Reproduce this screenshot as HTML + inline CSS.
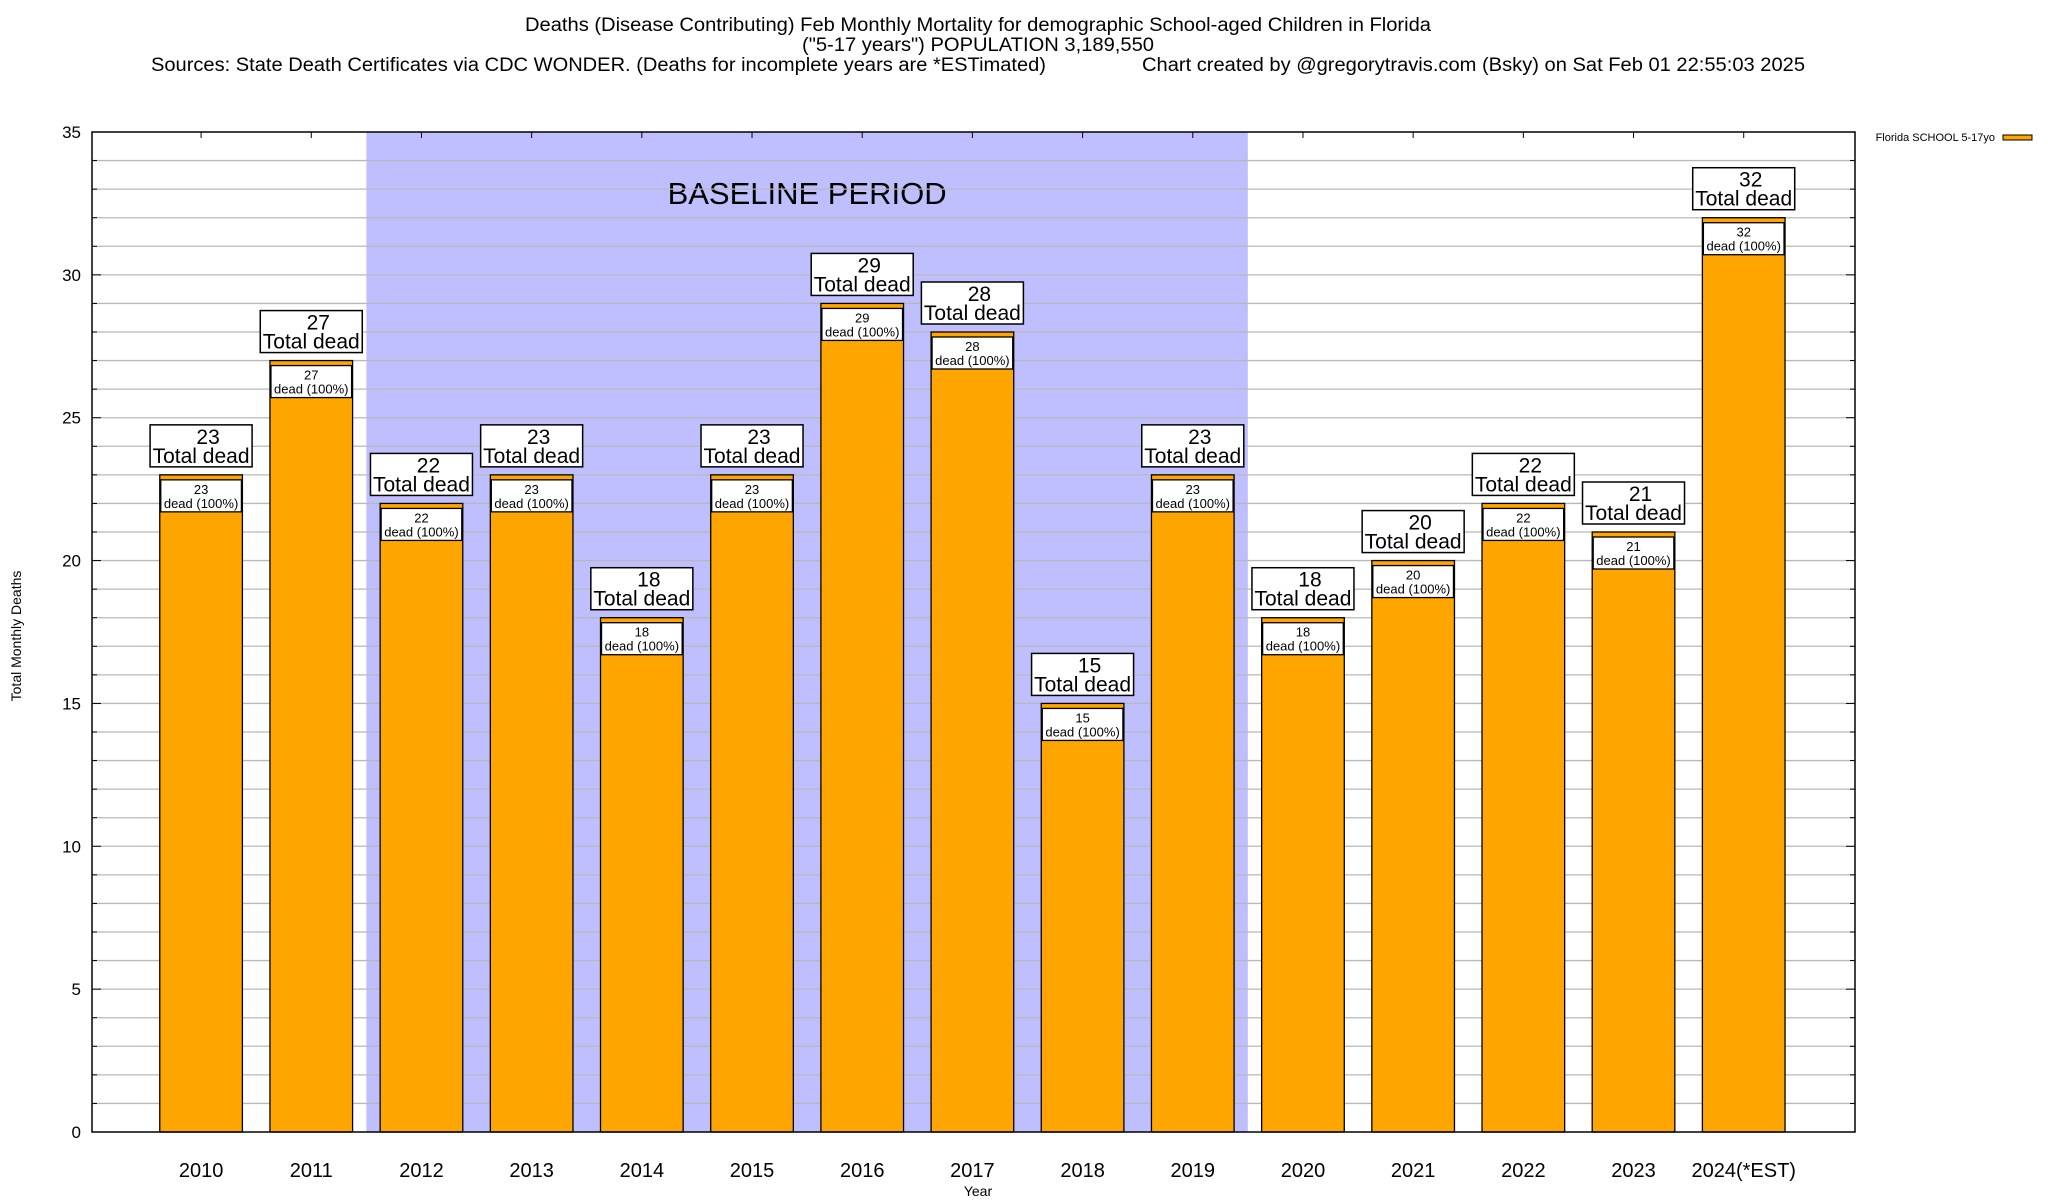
<!DOCTYPE html>
<html><head><meta charset="utf-8">
<style>
html,body{margin:0;padding:0;background:#fff;}
svg{display:block;font-family:"Liberation Sans",Arial,sans-serif;}
</style></head>
<body>
<svg id="chart" width="2048" height="1200" viewBox="0 0 2048 1200" xmlns="http://www.w3.org/2000/svg">
<text x="525" y="31" font-size="19" textLength="906" lengthAdjust="spacingAndGlyphs">Deaths (Disease Contributing) Feb Monthly Mortality for demographic School-aged Children in Florida</text>
<text x="802" y="51" font-size="19" textLength="352" lengthAdjust="spacingAndGlyphs">("5-17 years") POPULATION 3,189,550</text>
<text x="151" y="71" font-size="19" textLength="895" lengthAdjust="spacingAndGlyphs">Sources: State Death Certificates via CDC WONDER. (Deaths for incomplete years are *ESTimated)</text>
<text x="1142" y="71" font-size="19" textLength="663" lengthAdjust="spacingAndGlyphs">Chart created by @gregorytravis.com (Bsky) on Sat Feb 01 22:55:03 2025</text>
<g id="plot"></g>
</svg>
<script>
const categories = ["2010","2011","2012","2013","2014","2015","2016","2017","2018","2019","2020","2021","2022","2023","2024(*EST)"];
const deaths = [23,27,22,23,18,23,29,28,15,23,18,20,22,21,32];
const yTicks = [0,5,10,15,20,25,30,35];
const baselineStart = 1.5, baselineEnd = 9.5;

const NS = "http://www.w3.org/2000/svg";
const L = 92, R = 1855, T = 132, B = 1132;
const xMin = -0.99, xMax = 15.01, yMax = 35;
const xs = v => L + (v - xMin) / (xMax - xMin) * (R - L);
const ys = v => B - v / yMax * (B - T);
const g = document.getElementById('plot');
function mk(tag, attrs, parent){
  const e = document.createElementNS(NS, tag);
  for (const k in attrs) e.setAttribute(k, attrs[k]);
  (parent||g).appendChild(e);
  return e;
}
let sh = mk('rect',{x:xs(baselineStart),y:T,width:xs(baselineEnd)-xs(baselineStart),height:B-T,fill:'#bfbfff'});


let bt = mk('text',{x:(xs(baselineStart)+xs(baselineEnd))/2,y:204,'font-size':31,'text-anchor':'middle'});
bt.textContent = 'BASELINE PERIOD';


for (let v = 1; v < yMax; v++) {
  const y = ys(v);
  const gl = mk('line',{x1:L,x2:R,y1:y,y2:y,stroke:'#b8b8b8','stroke-width':1.3});
  
  
  const len = v % 5 === 0 ? 9 : 5;
  mk('line',{x1:L,x2:L+len,y1:y,y2:y,stroke:'#000','stroke-width':1});
  mk('line',{x1:R,x2:R-len,y1:y,y2:y,stroke:'#000','stroke-width':1});
}
yTicks.forEach(v => {
  const t = mk('text',{x:81,y:ys(v)+6,'font-size':17,'text-anchor':'end'});
  t.textContent = v;
  
  
});
const bw = 0.75;
categories.forEach((c, i) => {
  const cx = xs(i), w = xs(bw) - xs(0);
  const v = deaths[i];
  const top = ys(v);
  const bar = mk('rect',{x:cx-w/2,y:top,width:w,height:B-top,fill:'#ffa500',stroke:'#000','stroke-width':1.3});
  
  
  const ib = mk('rect',{x:cx-w/2+1,y:top+5,width:w-2,height:32,fill:'#fff',stroke:'#000','stroke-width':1.3});
  
  
  const t1 = mk('text',{x:cx,y:top+19,'font-size':13,'text-anchor':'middle'});
  t1.textContent = v;
  
  
  const t2 = mk('text',{x:cx,y:top+33,'font-size':13,'text-anchor':'middle'});
  t2.textContent = 'dead (100%)';
  
  
  const ob = mk('rect',{x:cx-51,y:top-50,width:102,height:42,fill:'#fff',stroke:'#000','stroke-width':1.5});
  
  
  const t3 = mk('text',{x:cx+7,y:top-31,'font-size':21,'text-anchor':'middle'});
  t3.textContent = v;
  
  
  const t4 = mk('text',{x:cx,y:top-12,'font-size':21,'text-anchor':'middle'});
  t4.textContent = 'Total dead';
  
  
  const xl = mk('text',{x:cx,y:1177,'font-size':20,'text-anchor':'middle'});
  xl.textContent = c;
  
  
  mk('line',{x1:cx,x2:cx,y1:T,y2:T+6,stroke:'#000','stroke-width':1});
});
const fr = mk('rect',{x:L,y:T,width:R-L,height:B-T,fill:'none',stroke:'#000','stroke-width':1.5});


const xt = mk('text',{x:978,y:1196,'font-size':14,'text-anchor':'middle'});
xt.textContent = 'Year';


const yt = mk('text',{x:0,y:0,'font-size':14,'text-anchor':'middle',transform:'translate(21,636) rotate(-90)'});
yt.textContent = 'Total Monthly Deaths';


const lt = mk('text',{x:1995,y:141,'font-size':11,'text-anchor':'end'});
lt.textContent = 'Florida SCHOOL 5-17yo';


const ls = mk('rect',{x:2003,y:135,width:29,height:5,fill:'#ffa500',stroke:'#000','stroke-width':1});


</script>
</body></html>
